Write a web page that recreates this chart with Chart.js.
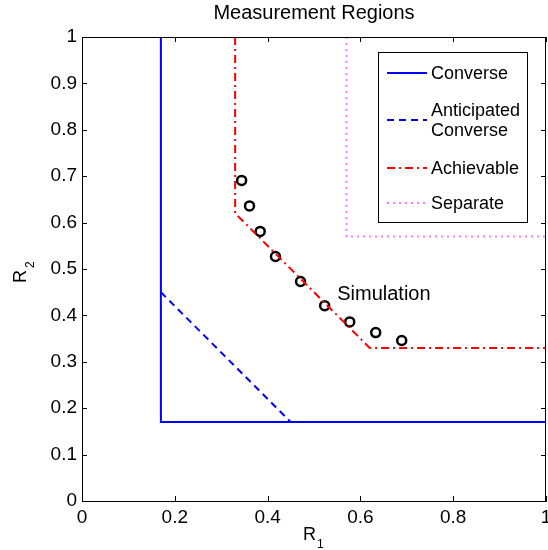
<!DOCTYPE html>
<html><head><meta charset="utf-8">
<script src="https://cdn.jsdelivr.net/npm/chart.js@4.4.1/dist/chart.umd.min.js"></script>
<style>html,body{margin:0;padding:0;background:#fff}#wrap{width:548px;height:550px}</style>
</head><body><div id="wrap"><canvas id="c" width="548" height="550"></canvas></div>
<script>
const converseX = [0.17, 0.17, 1];
const converseY = [1, 0.17, 0.17];
const anticipatedX = [0.17, 0.45];
const anticipatedY = [0.45, 0.17];
const achievableX = [0.33, 0.33, 0.62, 1];
const achievableY = [1, 0.62, 0.33, 0.33];
const separateX = [0.57, 0.57, 1];
const separateY = [1, 0.57, 0.57];
const simX = [0.344, 0.361, 0.384, 0.417, 0.471, 0.523, 0.577, 0.633, 0.689];
const simY = [0.691, 0.636, 0.581, 0.527, 0.473, 0.421, 0.386, 0.363, 0.346];
const xTicks = [0, 0.2, 0.4, 0.6, 0.8, 1];
const yTicks = [0, 0.1, 0.2, 0.3, 0.4, 0.5, 0.6, 0.7, 0.8, 0.9, 1];
const legendLabels = ['Converse', 'Anticipated\nConverse', 'Achievable', 'Separate'];
const titleText = 'Measurement Regions';
const simLabel = 'Simulation';

const pts = (xs, ys) => xs.map((x, i) => ({x, y: ys[i]}));
const FONT = 'Liberation Sans, Arial, Helvetica, sans-serif';

const lineDs = (label, data, color, dash) => ({
  label, data, showLine: true, borderColor: color, backgroundColor: color,
  borderWidth: 2, borderDash: dash, pointRadius: 0, pointHoverRadius: 0, tension: 0
});

const datasets = [
  lineDs(legendLabels[0], pts(converseX, converseY), '#0000ff', []),
  lineDs(legendLabels[1], pts(anticipatedX, anticipatedY), '#0000ff', [7, 5]),
  lineDs(legendLabels[2], pts(achievableX, achievableY), '#ff0000', [8, 4, 2, 4]),
  lineDs(legendLabels[3], pts(separateX, separateY), '#ff77ff', [2, 4]),
  {label: simLabel, data: pts(simX, simY), showLine: false, pointRadius: 4.5,
   pointBorderWidth: 2.5, pointBorderColor: '#000', pointBackgroundColor: 'rgba(0,0,0,0)', borderColor: '#000'}
];

const decor = {
  id: 'decor',
  afterDraw(chart) {
    const ctx = chart.ctx, a = chart.chartArea, xs = chart.scales.x, ys = chart.scales.y;
    ctx.save();
    ctx.strokeStyle = '#000'; ctx.lineWidth = 1; ctx.setLineDash([]);
    ctx.strokeRect(a.left + 0.5, a.top + 0.5, a.right - a.left - 1, a.bottom - a.top);
    ctx.beginPath();
    xTicks.forEach(v => { const p = Math.round(xs.getPixelForValue(v)) + 0.5;
      ctx.moveTo(p, a.bottom); ctx.lineTo(p, a.bottom - 5);
      ctx.moveTo(p, a.top); ctx.lineTo(p, a.top + 5); });
    yTicks.forEach(v => { const p = Math.round(ys.getPixelForValue(v)) + 0.5;
      ctx.moveTo(a.left, p); ctx.lineTo(a.left + 5, p);
      ctx.moveTo(a.right, p); ctx.lineTo(a.right - 5, p); });
    ctx.stroke();
    // title
    ctx.fillStyle = '#000';
    ctx.font = '20px ' + FONT; ctx.textAlign = 'center'; ctx.textBaseline = 'alphabetic';
    ctx.fillText(titleText, (a.left + a.right) / 2, 19);
    // axis titles
    ctx.textAlign = 'left';
    ctx.font = '18px ' + FONT; ctx.fillText('R', 303, 540);
    ctx.font = '12px ' + FONT; ctx.fillText('1', 317, 548);
    ctx.save();
    ctx.translate(26, 283);
    ctx.rotate(-Math.PI / 2);
    ctx.font = '18px ' + FONT; ctx.fillText('R', 0, 0);
    ctx.font = '12px ' + FONT; ctx.fillText('2', 15, 8);
    ctx.restore();
    // simulation label
    ctx.font = '20px ' + FONT; ctx.textAlign = 'left'; ctx.textBaseline = 'alphabetic';
    ctx.fillText(simLabel, xs.getPixelForValue(0.55), ys.getPixelForValue(0.433));
    // legend
    const lx = 378, ly = 52, lw = 149, lh = 170;
    ctx.fillStyle = '#fff'; ctx.fillRect(lx, ly, lw, lh);
    ctx.strokeStyle = '#000'; ctx.lineWidth = 1;
    ctx.strokeRect(lx + 0.5, ly + 0.5, lw, lh);
    const rows = [73, 120, 168, 203];
    ctx.font = '18px ' + FONT; ctx.textBaseline = 'middle';
    chart.data.datasets.slice(0, 4).forEach((ds, i) => {
      const y = rows[i];
      ctx.strokeStyle = ds.borderColor; ctx.lineWidth = 2; ctx.setLineDash(ds.borderDash);
      ctx.beginPath(); ctx.moveTo(387, y); ctx.lineTo(427, y); ctx.stroke();
      ctx.setLineDash([]); ctx.fillStyle = '#000';
      const parts = ds.label.split('\n');
      parts.forEach((t, k) => ctx.fillText(t, 431, y + 1 + (k - (parts.length - 1) / 2) * 20));
    });
    ctx.restore();
  }
};

new Chart(document.getElementById('c'), {
  type: 'scatter',
  data: {datasets},
  options: {
    responsive: false, animation: false, devicePixelRatio: 1,
    layout: {autoPadding: false, padding: {top: 37, right: 2, left: 0, bottom: 0}},
    plugins: {legend: {display: false}, tooltip: {enabled: false}, title: {display: false}},
    scales: {
      x: {type: 'linear', min: 0, max: 1,
        afterFit: s => { s.height = 49; s.paddingLeft = 0; s.paddingRight = 0; },
        afterBuildTicks: s => { s.ticks = xTicks.map(v => ({value: v})); },
        grid: {display: false, drawTicks: false},
        border: {display: true, color: '#000'},
        ticks: {color: '#000', font: {size: 19, family: FONT}, padding: 5, maxRotation: 0,
          callback: v => String(+(+v).toFixed(2))}},
      y: {type: 'linear', min: 0, max: 1,
        afterFit: s => { s.width = 82; s.paddingTop = 0; s.paddingBottom = 0; },
        afterBuildTicks: s => { s.ticks = yTicks.map(v => ({value: v})); },
        grid: {display: false, drawTicks: false},
        border: {display: true, color: '#000'},
        ticks: {color: '#000', font: {size: 19, family: FONT}, padding: 5,
          callback: v => String(+(+v).toFixed(2))}}
    }
  },
  plugins: [decor]
});
</script></body></html>
